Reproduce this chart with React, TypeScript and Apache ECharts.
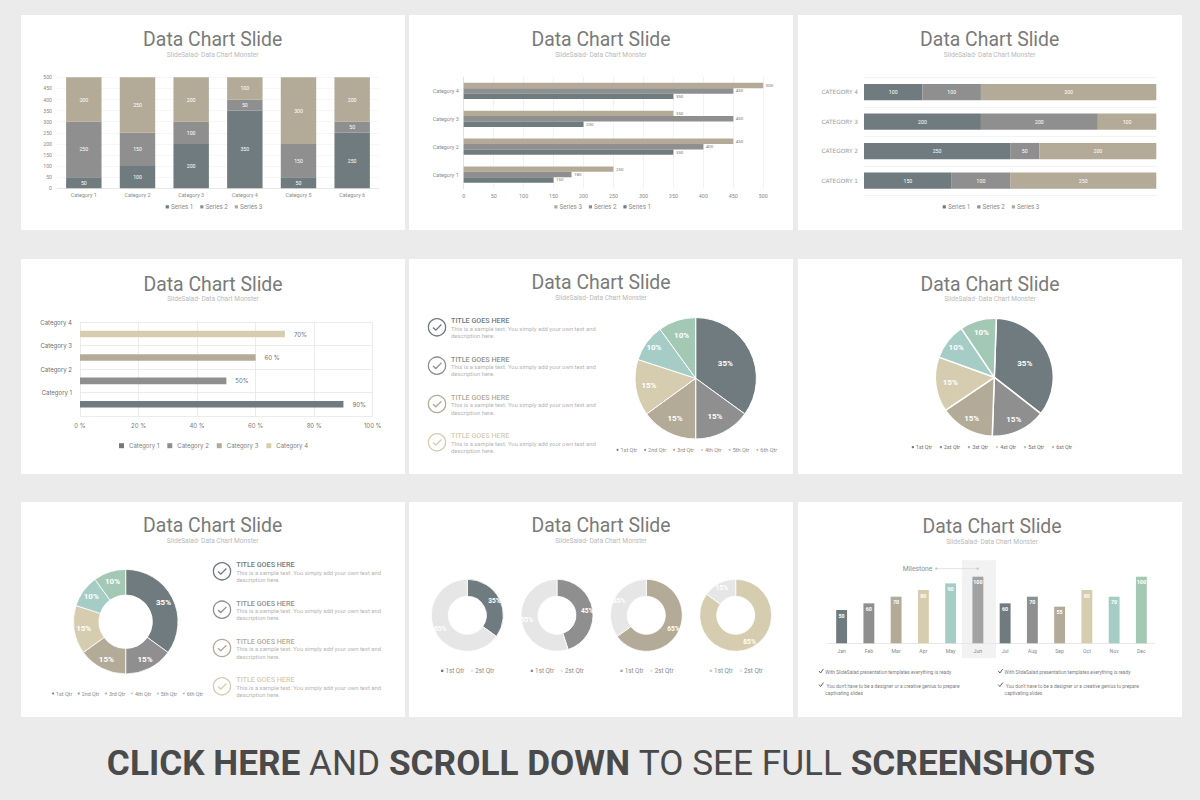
import React, { useEffect, useRef } from "react";
import * as echarts from "echarts";

// ---- data ----
const stackCategories = ["Category 1", "Category 2", "Category 3", "Category 4", "Category 5", "Category 6"];
const stackS1 = [50, 100, 200, 350, 50, 250];
const stackS2 = [250, 150, 100, 50, 150, 50];
const stackS3 = [200, 250, 200, 100, 300, 200];
const yTicks5 = 500;

const groupCategories = ["Category 1", "Category 2", "Category 3", "Category 4"];
const groupS1 = [150, 350, 200, 350];
const groupS2 = [180, 400, 450, 450];
const groupS3 = [250, 450, 350, 500];

const capsCategories = ["CATEGORY 1", "CATEGORY 2", "CATEGORY 3", "CATEGORY 4"];
const fullS1 = [150, 250, 200, 100];
const fullS2 = [100, 50, 200, 100];
const fullS3 = [250, 200, 100, 300];

const pctCategories = ["Category 1", "Category 2", "Category 3", "Category 4"];
const pctValues = [90, 50, 60, 70];
const pctLabels = ["90%", "50%", "60 %", "70%"];

const qtrNames = ["1st Qtr", "2nd Qtr", "3rd Qtr", "4th Qtr", "5th Qtr", "6th Qtr"];
const qtrNamesB = ["1st Qtr", "2st Qtr", "3st Qtr", "4st Qtr", "5st Qtr", "6st Qtr"];
const qtrValues = [35, 15, 15, 15, 10, 10];

const donutPairs = [[35, 65], [45, 55], [65, 35], [85, 15]];
const donutNames = ["1st Qtr", "2st Qtr"];

const months = ["Jan", "Feb", "Mar", "Apr", "May", "Jun", "Jul", "Aug", "Sep", "Oct", "Nov", "Dec"];
const monthValues = [50, 60, 70, 80, 90, 100, 60, 70, 55, 80, 70, 100];

const titleText = "Data Chart Slide";
const subText = "SlideSalad- Data Chart Monster";
const listTitle = "TITLE GOES HERE";
const listLine1 = "This is a sample text. You simply add your own text and";
const listLine2 = "description here.";
const bullet1 = "With SlideSalad presentation templates everything is ready";
const bullet2a = "You don't have to be a designer or a creative genius to prepare";
const bullet2b = "captivating slides";

// ---- palette ----
const C1 = "#6f7b7f";
const C2 = "#8f8f8f";
const C3 = "#b3ab98";
const C4 = "#d6cdb0";
const C5 = "#a5cdc6";
const C6 = "#a3c9b5";
const PIE_COLORS = [C1, C2, C3, C4, C5, C6];
const MONTH_COLORS = [C1, C2, C3, C4, C5, "#a2a2a2", C1, C2, C3, C4, C5, C6];
const GREY = "#e6e6e6";
const F = "Roboto";

const txt = (x: number, y: number, text: string, fontSize: number, fill: string, extra: any = {}) => ({
  type: "text",
  x,
  y,
  z2: 3,
  silent: true,
  style: {
    text,
    x: 0,
    y: 0,
    fontSize,
    fill,
    fontFamily: F,
    align: extra.align ?? "left",
    verticalAlign: "middle",
    fontWeight: extra.weight ?? "normal",
  },
});

const panels: [number, number, number, number][] = [
  [21, 15, 384, 215], [409, 15, 384, 215], [798, 15, 384, 215],
  [21, 259, 384, 215], [409, 259, 384, 215], [798, 259, 384, 215],
  [21, 502, 384, 215], [409, 502, 384, 215], [798, 502, 384, 215],
];
const heads: [number, number, number][] = [
  [212.7, 39, 54.5], [601, 39, 54.5], [989.7, 39, 54.5],
  [213, 284, 299.3], [601, 282, 298], [990, 284, 298.7],
  [212.7, 525.5, 541.3], [601, 525.5, 541.3], [992, 526.5, 542],
];

const checkList = (ringX: number, textX: number, ys: number[]) =>
  ys.flatMap((y, i) => {
    const c = [C1, C2, C3, C4][i];
    return [
      { type: "circle", z2: 3, shape: { cx: ringX, cy: y, r: 8.6 }, style: { fill: "none", stroke: c, lineWidth: 1.3 } },
      {
        type: "polyline",
        z2: 3,
        shape: { points: [[ringX - 4, y + 0.2], [ringX - 1.2, y + 2.8], [ringX + 4.4, y - 2.8]] },
        style: { fill: "none", stroke: c, lineWidth: 1.3 },
      },
      txt(textX, y - 6.5, listTitle, 7.2, c, { weight: 500 }),
      txt(textX, y + 1.3, listLine1, 5.9, "#b4b4b4"),
      txt(textX, y + 8.6, listLine2, 5.9, "#b4b4b4"),
    ];
  });

const bullets = [0, 179.3].flatMap((dx) => [
  {
    type: "polyline", z2: 3,
    shape: { points: [[819 + dx, 671], [820.6 + dx, 673], [823.4 + dx, 669]] },
    style: { fill: "none", stroke: "#5e6468", lineWidth: 1 },
  },
  {
    type: "polyline", z2: 3,
    shape: { points: [[819 + dx, 684.6], [820.6 + dx, 686.6], [823.4 + dx, 682.6]] },
    style: { fill: "none", stroke: "#5e6468", lineWidth: 1 },
  },
  txt(825.3 + dx, 672.4, bullet1, 4.85, "#7d7d7d"),
  txt(826.5 + dx, 686, bullet2a, 4.85, "#7d7d7d"),
  txt(825.3 + dx, 693.4, bullet2b, 4.85, "#7d7d7d"),
]);

const graphicElements: any[] = [
  ...panels.map(([x, y, width, height]) => ({
    type: "rect", z2: -10, silent: true, shape: { x, y, width, height }, style: { fill: "#ffffff" },
  })),
  ...heads.flatMap(([x, y, s]) => [
    txt(x, y, titleText, 19.4, "#7a7a7a", { align: "center" }),
    txt(x, s, subText, 6.6, "#b9b9b9", { align: "center" }),
  ]),
  ...checkList(437, 451, [327.3, 365.7, 404, 442.3]),
  ...checkList(222, 236.3, [571.3, 609.7, 648, 686.3]),
  ...bullets,
  {
    type: "rect", z2: -5, silent: true,
    shape: { x: 962, y: 560.3, width: 34, height: 98, r: 1 },
    style: { fill: "#f2f2f2" },
  },
  txt(902.7, 569, "Milestone", 6.8, "#8f8f8f"),
  { type: "line", z2: 3, shape: { x1: 937, y1: 568.6, x2: 977.7, y2: 568.6 }, style: { stroke: "#d8d8d8", lineWidth: 0.7 } },
  { type: "circle", z2: 3, shape: { cx: 936.3, cy: 568.6, r: 1.2 }, style: { fill: "#c8c8c8" } },
  { type: "circle", z2: 3, shape: { cx: 977.7, cy: 568.6, r: 1.2 }, style: { fill: "#c8c8c8" } },
  {
    type: "text", z2: 3, x: 601, y: 762.5, silent: true,
    style: {
      text: "{b|CLICK HERE} {r|AND} {b|SCROLL DOWN} {r|TO SEE FULL} {b|SCREENSHOTS}",
      x: 0, y: 0, align: "center", verticalAlign: "middle",
      fontFamily: F, fontSize: 35.2, fill: "#4a4a4a",
      rich: {
        b: { fontFamily: F, fontSize: 35.2, fontWeight: 700, fill: "#4a4a4a" },
        r: { fontFamily: F, fontSize: 35.2, fontWeight: 400, fill: "#4a4a4a" },
      },
    },
  },
];

const legend = (
  x: number, y: number, names: string[], colors: string[],
  o: { icon?: string; size?: number; font?: number; gap?: number; color?: string; family?: string; pad?: number } = {}
) => {
  const size = o.size ?? 3.2;
  const font = o.font ?? 6.3;
  return {
    left: x,
    top: y - Math.max(size, font) / 2,
    padding: 0,
    orient: "horizontal",
    itemWidth: size,
    itemHeight: size,
    itemGap: o.gap ?? 6.9,
    icon: o.icon ?? "rect",
    selectedMode: false,
    textStyle: {
      fontSize: font,
      color: o.color ?? "#8a8a8a",
      fontFamily: o.family ?? F,
      padding: [0, 0, 0, o.pad ?? -3],
    },
    data: names.map((name, i) => ({ name, itemStyle: { color: colors[i], borderWidth: 0 }, icon: o.icon ?? "rect" })),
  };
};

const axisText = (size: number, color: string, family = F) => ({ fontSize: size, color, fontFamily: family });

// moves each inside pie label along its slice's bisector, to the fraction of the radius it sits at
const labelShift = (values: number[], startAngle: number, r: number, fractions: number[]) => {
  const total = values.reduce((a, b) => a + b, 0);
  return (params: any) => {
    const i = params.dataIndex;
    const before = values.slice(0, i).reduce((a, b) => a + b, 0);
    const theta = ((-startAngle + ((before + values[i] / 2) / total) * 360) * Math.PI) / 180;
    const d = (fractions[i] - 0.5) * r;
    return { dx: Math.cos(theta) * d, dy: Math.sin(theta) * d };
  };
};

const option: any = {
  animation: false,
  backgroundColor: "#ecebec",
  graphic: { elements: graphicElements },
  grid: [
    { left: 57, top: 77.3, width: 322, height: 111 },
    { left: 463.7, top: 77, width: 299.6, height: 111.5 },
    { left: 864, top: 77.3, width: 292.3, height: 118 },
    { left: 80, top: 322.3, width: 292.7, height: 93.7 },
    { left: 828, top: 576.7, width: 327, height: 66.6 },
  ],
  xAxis: [
    {
      gridIndex: 0, type: "category", data: stackCategories,
      axisTick: { show: false }, axisLine: { lineStyle: { color: "#e8e8e8" } },
      axisLabel: { ...axisText(5.4, "#8a8a8a"), margin: 4.5, interval: 0 },
    },
    {
      gridIndex: 1, type: "value", min: 0, max: yTicks5, interval: 50,
      axisLine: { show: false }, axisTick: { show: false },
      splitLine: { show: true, lineStyle: { color: "#ededed", width: 0.7 } },
      axisLabel: { ...axisText(5.4, "#8a8a8a"), margin: 4.5 },
    },
    {
      gridIndex: 2, type: "value", min: 0, max: yTicks5,
      axisLine: { show: false }, axisTick: { show: false }, axisLabel: { show: false }, splitLine: { show: false },
    },
    {
      gridIndex: 3, type: "value", min: 0, max: 100, interval: 20,
      axisLine: { show: false }, axisTick: { show: false },
      splitLine: { show: true, lineStyle: { color: "#e6e6e6", width: 0.8 } },
      axisLabel: { ...axisText(6, "#7a7a7a", "Inter"), margin: 6, formatter: "{value} %" },
    },
    {
      gridIndex: 4, type: "category", data: months,
      axisTick: { show: false }, axisLine: { lineStyle: { color: "#e8e8e8" } },
      axisLabel: { ...axisText(5.2, "#8a8a8a"), margin: 5, interval: 0 },
    },
  ],
  yAxis: [
    {
      gridIndex: 0, type: "value", min: 0, max: yTicks5, interval: 50,
      axisLine: { show: false }, axisTick: { show: false },
      splitLine: { show: true, lineStyle: { color: "#f3f3f3", width: 0.7 } },
      axisLabel: { ...axisText(5.2, "#8a8a8a"), margin: 5 },
    },
    {
      gridIndex: 1, type: "category", data: groupCategories,
      axisTick: { show: false }, axisLine: { show: true, lineStyle: { color: "#e2e2e2" } },
      axisLabel: { ...axisText(5.4, "#8a8a8a"), margin: 5 },
    },
    {
      gridIndex: 2, type: "category", data: capsCategories,
      axisTick: { show: false }, axisLine: { show: false },
      splitLine: { show: true, interval: 0, lineStyle: { color: "#f0f0f0", width: 0.8 } },
      axisLabel: { fontSize: 5.8, color: "#9a9a9a", fontFamily: "DejaVu Sans", margin: 6 },
    },
    {
      gridIndex: 3, type: "category", data: pctCategories,
      axisTick: { show: false }, axisLine: { show: false },
      splitLine: { show: true, interval: 0, lineStyle: { color: "#e6e6e6", width: 0.8 } },
      axisLabel: { ...axisText(6, "#6e6e6e", "Inter"), margin: 8, interval: 0, verticalAlign: "bottom", lineHeight: 23.4 },
    },
    {
      gridIndex: 4, type: "value", min: 0, max: 100, show: false,
    },
  ],
  legend: [
    legend(165.7, 207, ["Series 1", "Series 2", "Series 3"], [C1, C2, C3]),
    legend(554.3, 207, ["Series 3", "Series 2", "Series 1"], [C3, C2, C1]),
    legend(942.7, 207, ["Series 1", "Series 2", "Series 3"], [C1, C2, C3]),
    legend(119, 445.7, pctCategories, [C1, C2, C3, C4], { size: 5, font: 6, gap: 8, family: "Inter", color: "#7e7e7e", pad: 0 }),
    legend(616.5, 449.7, qtrNames, PIE_COLORS, { icon: "circle", size: 2, font: 5.5, gap: 7 }),
    legend(911.7, 447.3, qtrNamesB, PIE_COLORS, { icon: "circle", size: 2.4, font: 5.3, gap: 7.7, color: "#6c6c6c" }),
    legend(52, 693.7, qtrNames, PIE_COLORS, { icon: "circle", size: 2, font: 5.4, gap: 5.5 }),
    ...[441, 530.7, 620.3, 709.7].map((x, i) =>
      legend(x, 671, donutNames, [[C1, C2, C3, C4][i], GREY], { size: 2.4, font: 6.3, gap: 6.6 })
    ),
  ],
  series: [
    ...[stackS1, stackS2, stackS3].map((data, i) => ({
      type: "bar", name: `Series ${i + 1}`, xAxisIndex: 0, yAxisIndex: 0, stack: "p1", data,
      barWidth: "66%", itemStyle: { color: [C1, C2, C3][i] },
      label: { show: true, position: "inside", fontSize: 5.2, color: "#ffffff", fontFamily: F },
    })),
    ...[groupS3, groupS2, groupS1].map((data, i) => ({
      type: "bar", name: `Series ${3 - i}`, xAxisIndex: 1, yAxisIndex: 1, data,
      barGap: "0%", barCategoryGap: "42%", itemStyle: { color: [C3, C2, C1][i] },
      label: { show: true, position: "right", distance: 2.5, fontSize: 4.4, color: "#777777", fontFamily: F },
    })),
    ...[fullS1, fullS2, fullS3].map((data, i) => ({
      type: "bar", name: `Series ${i + 1}`, xAxisIndex: 2, yAxisIndex: 2, stack: "p3", data,
      barWidth: "55%", itemStyle: { color: [C1, C2, C3][i] },
      label: { show: true, position: "inside", fontSize: 5.2, color: "#ffffff", fontFamily: F },
    })),
    ...pctCategories.map((name, i) => ({
      type: "bar", name, xAxisIndex: 3, yAxisIndex: 3, stack: "p4",
      data: pctValues.map((v, j) => (j === i ? v : null)),
      barWidth: "28%", itemStyle: { color: [C1, C2, C3, C4][i] },
      label: {
        show: true, position: "right", distance: 9, fontSize: 6, color: "#707070", fontFamily: "Inter",
        formatter: () => pctLabels[i],
      },
    })),
    {
      type: "pie", center: [695.7, 378.3], radius: [0, 60.7], startAngle: 90,
      data: qtrValues.map((value, i) => ({ name: qtrNames[i], value, itemStyle: { color: PIE_COLORS[i] } })),
      itemStyle: { borderColor: "#ffffff", borderWidth: 1 },
      label: { position: "inside", formatter: "{c}%", color: "#ffffff", fontSize: 8, fontWeight: 700, fontFamily: F },
      labelLine: { show: false },
      labelLayout: labelShift(qtrValues, 90, 60.7, [0.5, 0.65, 0.7, 0.73, 0.8, 0.7]),
    },
    {
      type: "pie", center: [994.3, 377.3], radius: [0, 59], startAngle: 88,
      data: qtrValues.map((value, i) => ({ name: qtrNamesB[i], value, itemStyle: { color: PIE_COLORS[i] } })),
      itemStyle: { borderColor: "#ffffff", borderWidth: 1.5 },
      label: { position: "inside", formatter: "{c}%", color: "#ffffff", fontSize: 8, fontWeight: 700, fontFamily: F },
      labelLine: { show: false },
      labelLayout: labelShift(qtrValues, 88, 59, [0.52, 0.73, 0.74, 0.7, 0.77, 0.74]),
    },
    {
      type: "pie", center: [125.7, 621.7], radius: [26.7, 52.3], startAngle: 90,
      data: qtrValues.map((value, i) => ({ name: qtrNames[i], value, itemStyle: { color: PIE_COLORS[i] } })),
      itemStyle: { borderColor: "#ffffff", borderWidth: 0.8 },
      label: { position: "inside", formatter: "{c}%", color: "#ffffff", fontSize: 8, fontWeight: 700, fontFamily: F },
      labelLine: { show: false },
    },
    ...donutPairs.map((pair, i) => ({
      type: "pie", center: [[467.3, 557, 646.3, 735.7][i], 615.3], radius: [19, 36], startAngle: 90,
      data: pair.map((value, j) => ({
        name: donutNames[j], value, itemStyle: { color: j === 0 ? [C1, C2, C3, C4][i] : GREY },
      })),
      itemStyle: { borderColor: "#ffffff", borderWidth: 0.8 },
      label: { position: "inside", formatter: "{c}%", color: "#ffffff", fontSize: 6.6, fontWeight: 700, fontFamily: F },
      labelLine: { show: false },
    })),
    {
      type: "bar", name: "Milestones", xAxisIndex: 4, yAxisIndex: 4, barWidth: "40%",
      data: monthValues.map((value, i) => ({ value, itemStyle: { color: MONTH_COLORS[i] } })),
      label: { show: true, position: "insideTop", distance: 3, fontSize: 5.4, fontWeight: 700, color: "#ffffff", fontFamily: F },
    },
  ],
};

export default function App() {
  const ref = useRef<HTMLDivElement | null>(null);
  useEffect(() => {
    if (!ref.current) return;
    const chart = echarts.init(ref.current, undefined, { renderer: "svg" });
    chart.setOption(option);
    return () => chart.dispose();
  }, []);
  return <div ref={ref} style={{ position: "absolute", left: 0, top: 0, width: 1200, height: 800 }} />;
}
